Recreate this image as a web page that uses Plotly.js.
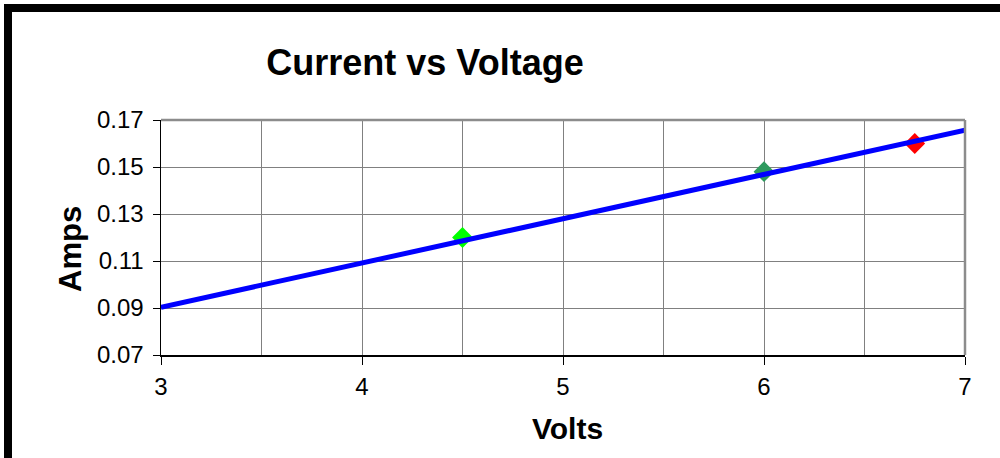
<!DOCTYPE html>
<html>
<head>
<meta charset="utf-8">
<script src="https://cdn.plot.ly/plotly-3.0.1.min.js"></script>
<style>
  html, body { margin: 0; padding: 0; background: #fff; }
  #wrap { position: relative; width: 1000px; height: 458px; overflow: hidden; }
  #chart { position: absolute; left: 0; top: 0; width: 1000px; height: 458px; }
  #frame { position: absolute; left: 4px; top: 4px; width: 1010px; height: 470px;
           border-left: 8px solid #000; border-top: 8px solid #000; pointer-events: none; }
</style>
</head>
<body>
<div id="wrap">
  <div id="chart"></div>
  <div id="frame"></div>
</div>
<script>
// Measured points
const volts = [4.5, 6, 6.75];
const amps = [0.120, 0.148, 0.160];
const markerColors = ['#00ff00', '#2e9a5e', '#ff0000'];

// Trendline endpoints
const fitVolts = [3, 7];
const fitAmps = [0.0903, 0.1657];

// Axis ticks
const xTickVals = [3, 4, 5, 6, 7];
const xTickText = ['3', '4', '5', '6', '7'];
const yTickVals = [0.07, 0.09, 0.11, 0.13, 0.15, 0.17];
const yTickText = ['0.07', '0.09', '0.11', '0.13', '0.15', '0.17'];

const font = 'Liberation Sans, Arial, sans-serif';

const traces = [
  {
    x: volts, y: amps, type: 'scatter', mode: 'markers',
    marker: { symbol: 'diamond', size: 16, color: markerColors, line: { width: 0 } },
    hoverinfo: 'skip', showlegend: false, cliponaxis: false
  },
  {
    x: fitVolts, y: fitAmps, type: 'scatter', mode: 'lines',
    line: { color: '#0000ff', width: 5 },
    hoverinfo: 'skip', showlegend: false
  }
];

const layout = {
  width: 1000, height: 458,
  paper_bgcolor: '#fff', plot_bgcolor: '#fff',
  margin: { l: 161, r: 35, t: 120, b: 103 },
  showlegend: false,
  font: { family: font, color: '#000', size: 24 },
  title: {
    text: '<b>Current vs Voltage</b>',
    font: { family: font, size: 36, color: '#000' },
    xref: 'container', yref: 'container',
    x: 0.425, xanchor: 'center', y: 1 - 62 / 458, yanchor: 'middle'
  },
  xaxis: {
    range: [3, 7], fixedrange: true,
    tickmode: 'array', tickvals: xTickVals, ticktext: xTickText,
    ticks: 'outside', ticklen: 8, tickwidth: 1, tickcolor: '#000',
    ticklabelstandoff: 2,
    showgrid: true, gridcolor: '#808080', gridwidth: 1,
    minor: { dtick: 0.5, showgrid: true, gridcolor: '#808080', gridwidth: 1, ticks: '' },
    showline: true, linecolor: '#000', linewidth: 1.5,
    zeroline: false,
    tickfont: { family: font, size: 24, color: '#000' }
  },
  yaxis: {
    range: [0.07, 0.17], fixedrange: true,
    tickmode: 'array', tickvals: yTickVals, ticktext: yTickText,
    ticks: 'outside', ticklen: 7, tickwidth: 1, tickcolor: '#000',
    ticklabelstandoff: 4,
    showgrid: true, gridcolor: '#808080', gridwidth: 1,
    showline: true, linecolor: '#000', linewidth: 1.5,
    zeroline: false,
    tickfont: { family: font, size: 24, color: '#000' }
  },
  shapes: [
    { type: 'line', xref: 'paper', yref: 'paper', x0: 0, x1: 1, y0: 1, y1: 1,
      line: { color: '#8c8c8c', width: 2.5 } },
    { type: 'line', xref: 'paper', yref: 'paper', x0: 1, x1: 1, y0: 0, y1: 1,
      line: { color: '#8c8c8c', width: 2.5 } }
  ],
  annotations: [
    { text: '<b>Amps</b>', xref: 'paper', yref: 'paper',
      x: (70 - 161) / 804, y: (355 - 249) / 235, xanchor: 'center', yanchor: 'middle',
      textangle: -90, showarrow: false, font: { family: font, size: 31, color: '#000' } },
    { text: '<b>Volts</b>', xref: 'paper', yref: 'paper',
      x: (567 - 161) / 804, y: (355 - 428) / 235, xanchor: 'center', yanchor: 'middle',
      showarrow: false, font: { family: font, size: 30, color: '#000' } }
  ]
};

Plotly.newPlot('chart', traces, layout, { staticPlot: true, displayModeBar: false });
</script>
</body>
</html>
